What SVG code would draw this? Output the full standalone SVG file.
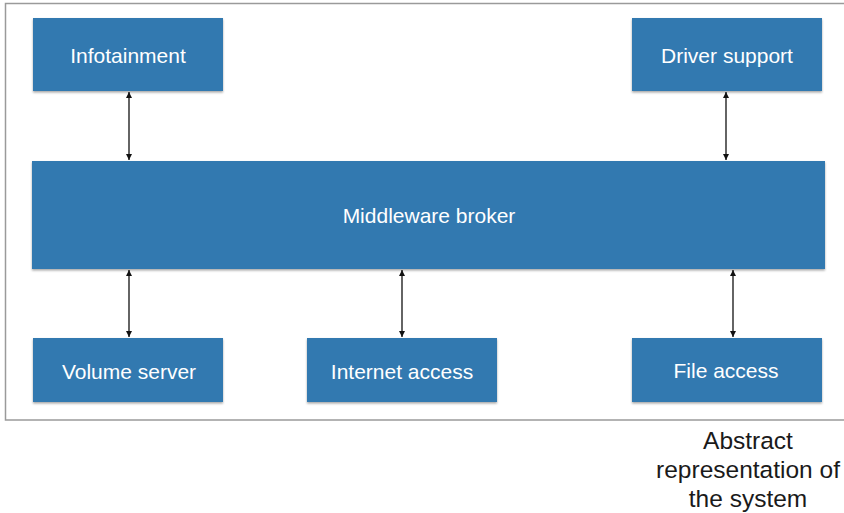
<svg xmlns="http://www.w3.org/2000/svg" width="844" height="513" viewBox="0 0 844 513">
  <defs>
    <marker id="arrowEnd" viewBox="0 0 10 10" refX="10" refY="5" markerWidth="6" markerHeight="7" orient="auto" markerUnits="userSpaceOnUse">
      <path d="M0,0 L10,5 L0,10 z" fill="#111"/>
    </marker>
    <marker id="arrowStart" viewBox="0 0 10 10" refX="0" refY="5" markerWidth="6" markerHeight="7" orient="auto" markerUnits="userSpaceOnUse">
      <path d="M10,0 L0,5 L10,10 z" fill="#111"/>
    </marker>
    <filter id="drop" x="-5%" y="-10%" width="110%" height="130%">
      <feDropShadow dx="0" dy="1.5" stdDeviation="1" flood-color="#000" flood-opacity="0.35"/>
    </filter>
  </defs>
  <style>
    .box { fill: #3179b0; filter: url(#drop); }
    .label { font-family: "Liberation Sans", Arial, sans-serif; font-size: 21px; fill: #ffffff; text-anchor: middle; dominant-baseline: central; }
    .link { stroke: #111; stroke-width: 1.3; fill: none; marker-start: url(#arrowStart); marker-end: url(#arrowEnd); }
    .caption { font-family: "Liberation Sans", Arial, sans-serif; font-size: 24.5px; fill: #1a1a1a; text-anchor: middle; }
  </style>

  <rect width="844" height="513" fill="#ffffff"/>
  <!-- system boundary -->
  <rect x="5.5" y="3.5" width="840" height="416.5" fill="none" stroke="#9a9a9a" stroke-width="1.5"/>

  <g id="infotainment">
    <rect class="box" x="33" y="18" width="190" height="73"/>
    <text class="label" x="128" y="55">Infotainment</text>
  </g>
  <g id="driver-support">
    <rect class="box" x="632" y="18" width="190" height="73"/>
    <text class="label" x="727" y="55">Driver support</text>
  </g>
  <g id="middleware-broker">
    <rect class="box" x="32" y="161" width="793" height="108"/>
    <text class="label" x="429" y="215">Middleware broker</text>
  </g>
  <g id="volume-server">
    <rect class="box" x="33" y="338" width="190" height="64"/>
    <text class="label" x="129" y="371">Volume server</text>
  </g>
  <g id="internet-access">
    <rect class="box" x="307" y="338" width="190" height="64"/>
    <text class="label" x="402" y="371">Internet access</text>
  </g>
  <g id="file-access">
    <rect class="box" x="632" y="338" width="190" height="64"/>
    <text class="label" x="726" y="370">File access</text>
  </g>

  <g id="connectors">
    <line class="link" x1="129" y1="92" x2="129" y2="160"/>
    <line class="link" x1="726" y1="92" x2="726" y2="160"/>
    <line class="link" x1="129" y1="270" x2="129" y2="337"/>
    <line class="link" x1="402" y1="270" x2="402" y2="337"/>
    <line class="link" x1="733" y1="270" x2="733" y2="337"/>
  </g>

  <g id="caption">
    <text class="caption" x="748" y="449">Abstract</text>
    <text class="caption" x="748" y="478">representation of</text>
    <text class="caption" x="748" y="507">the system</text>
  </g>
</svg>
